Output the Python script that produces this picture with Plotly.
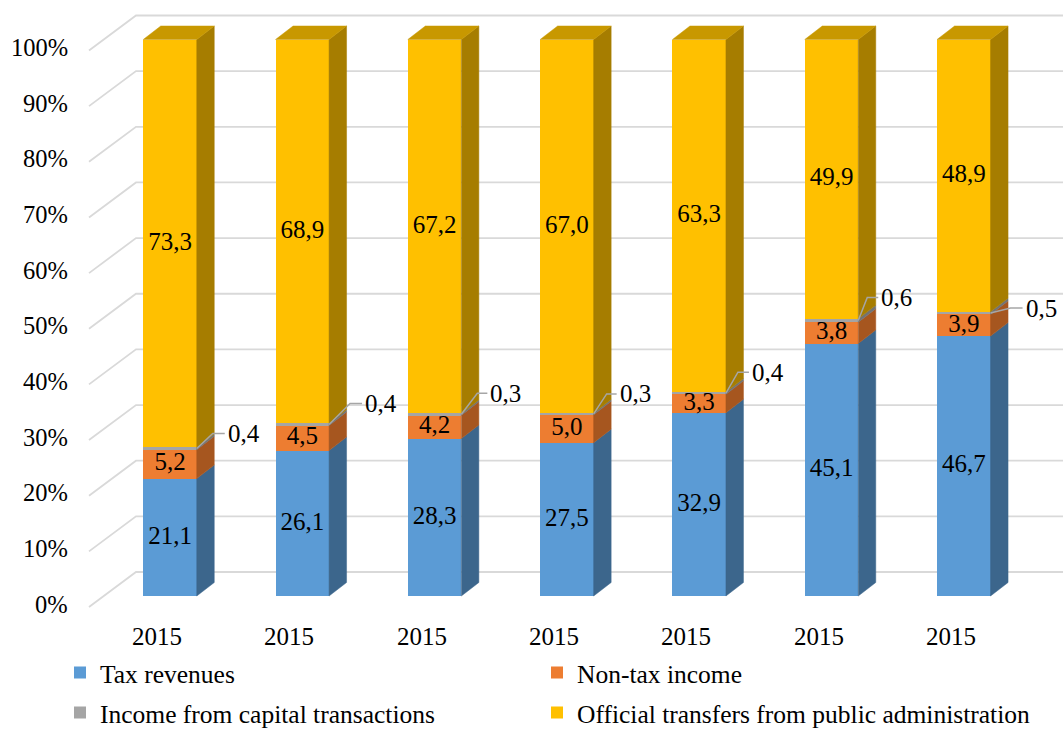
import numpy as np
import plotly.graph_objects as go

# ---- data ----
categories = ["2015", "2015", "2015", "2015", "2015", "2015", "2015"]
tax_revenues = [21.1, 26.1, 28.3, 27.5, 32.9, 45.1, 46.7]
non_tax_income = [5.2, 4.5, 4.2, 5.0, 3.3, 3.8, 3.9]
capital_income = [0.4, 0.4, 0.3, 0.3, 0.4, 0.6, 0.5]
official_transfers = [73.3, 68.9, 67.2, 67.0, 63.3, 49.9, 48.9]
series_names = [
    "Tax revenues",
    "Non-tax income",
    "Income from capital transactions",
    "Official transfers from public administration",
]
y_ticks = [0, 10, 20, 30, 40, 50, 60, 70, 80, 90, 100]

# ---- style ----
FONT = "'Liberation Serif', 'Times New Roman', Times, serif"
FS = 25
FS_TICK = 24.5
FS_LEGEND = 25.5
FRONT = ["#5B9BD5", "#ED7D31", "#A5A5A5", "#FFC000"]
SIDE = ["#3C668C", "#A6561F", "#737373", "#A67D00"]
TOP = "#C89800"
GRID = "#D9D9D9"
LEADER = "#A6A6A6"

W, H = 1063, 731
PX_X = 132.3    # pixels per category step
PX_Y = 5.565    # pixels per percentage point
X0_PX, Y0_PX = 170.0, 596.0   # pixel position of first bar centre / 0 %

BW = 53.5 / PX_X          # bar width
DX = 17.5 / PX_X          # 3-D depth offset (x)
DY = 13.5 / PX_Y          # 3-D depth offset (y)
WALL_X0 = (89 - X0_PX) / PX_X
WALL_X1 = (136 - X0_PX) / PX_X
FLOOR_DY = 11 / PX_Y
WALL_DY = 24 / PX_Y
CAT_DX = -13 / PX_X
CAT_Y = -40 / PX_Y

x_range = [-X0_PX / PX_X, (W - X0_PX) / PX_X]
y_range = [-(H - Y0_PX) / PX_Y, Y0_PX / PX_Y]

# leader line geometry for the small segment labels: (diag dx, diag dy, horizontal) in px
leader_geom = [(16, 15, 12), (21, 21, 12), (16, 21, 10), (13, 20, 10),
               (12, 21, 11), (9, 23, 11), (20, 5, 12)]

# legend entry placement (symbol-area left edge x, row centre y) in px
legend_pos = [(60, 673), (537, 673), (60, 713), (537, 713)]

series = [tax_revenues, non_tax_income, capital_income, official_transfers]
raw = np.array(series, dtype=float)
pct = raw / raw.sum(axis=0) * 100.0          # 100 % stacked
tops = np.cumsum(pct, axis=0)
bases = tops - pct
xs = np.arange(len(categories))


def fmt(v):
    return f"{v:.1f}".replace(".", ",")


fig = go.Figure()

# front faces, one legend box per entry
legend_ids = ["legend", "legend2", "legend3", "legend4"]
for k, name in enumerate(series_names):
    fig.add_trace(go.Bar(
        x=xs, y=series[k], name=name, width=BW,
        marker=dict(color=FRONT[k], line=dict(width=0)),
        legend=legend_ids[k], hoverinfo="skip",
    ))

# right side faces
for k in range(len(series)):
    px_, py_ = [], []
    for i in xs:
        xr = i + BW / 2
        b, t = bases[k, i], tops[k, i]
        px_ += [xr, xr + DX, xr + DX, xr, xr, None]
        py_ += [b, b + DY, t + DY, t, b, None]
    fig.add_trace(go.Scatter(
        x=px_, y=py_, mode="lines", fill="toself", fillcolor=SIDE[k],
        line=dict(color=SIDE[k], width=0.5), showlegend=False, hoverinfo="skip",
    ))

# top faces
px_, py_ = [], []
for i in xs:
    t = tops[-1, i]
    xl, xr = i - BW / 2, i + BW / 2
    px_ += [xl, xl + DX, xr + DX, xr, xl, None]
    py_ += [t, t + DY, t + DY, t, t, None]
fig.add_trace(go.Scatter(
    x=px_, y=py_, mode="lines", fill="toself", fillcolor=TOP,
    line=dict(color=TOP, width=0.5), showlegend=False, hoverinfo="skip",
))

# labels inside the segments
for k in (0, 1, 3):
    fig.add_trace(go.Scatter(
        x=xs, y=(bases[k] + tops[k]) / 2, mode="text",
        text=[fmt(v) for v in series[k]],
        textfont=dict(family=FONT, size=FS, color="#000000"),
        showlegend=False, hoverinfo="skip",
    ))

# leader lines and labels for the capital-transactions segment
lx, ly = [], []
annotations = []
for i in xs:
    gdx, gdy, hor = leader_geom[i]
    x_s = i + BW / 2
    y_s = (bases[2, i] + tops[2, i]) / 2
    x_m, y_m = x_s + gdx / PX_X, y_s + gdy / PX_Y
    x_e = x_m + hor / PX_X
    lx += [x_s, x_m, x_e, None]
    ly += [y_s, y_m, y_m, None]
    annotations.append(dict(
        x=x_e, y=y_m, xref="x", yref="y", text=fmt(capital_income[i]),
        showarrow=False, xanchor="left", yanchor="middle", xshift=1,
        font=dict(family=FONT, size=FS, color="#000000"),
    ))
fig.add_trace(go.Scatter(
    x=lx, y=ly, mode="lines", line=dict(color=LEADER, width=1.5),
    showlegend=False, hoverinfo="skip",
))

# gridlines on side and back walls
shapes = []
for v in y_ticks:
    shapes.append(dict(
        type="path", xref="x", yref="y", layer="below",
        path=f"M {WALL_X0},{v - FLOOR_DY} L {WALL_X1},{v + WALL_DY} L {x_range[1]},{v + WALL_DY}",
        line=dict(color=GRID, width=1.8),
    ))
    annotations.append(dict(
        x=WALL_X0, y=v - FLOOR_DY, xref="x", yref="y", text=f"{v}%",
        showarrow=False, xanchor="right", yanchor="middle", xshift=-19, yshift=3,
        font=dict(family=FONT, size=FS_TICK, color="#000000"),
    ))

# category labels
for i, c in enumerate(categories):
    annotations.append(dict(
        x=i + CAT_DX, y=CAT_Y, xref="x", yref="y", text=c, showarrow=False,
        xanchor="center", yanchor="middle",
        font=dict(family=FONT, size=FS, color="#000000"),
    ))

legends = {}
for lid, (lx_px, ly_px) in zip(legend_ids, legend_pos):
    legends[lid] = dict(
        orientation="h", xanchor="left", yanchor="middle",
        x=lx_px / W, y=1 - ly_px / H, maxheight=120,
        font=dict(family=FONT, size=FS_LEGEND, color="#000000"),
        bgcolor="rgba(0,0,0,0)", itemclick=False, itemdoubleclick=False,
    )

fig.update_layout(
    width=W, height=H,
    margin=dict(l=0, r=0, t=0, b=0, autoexpand=False),
    paper_bgcolor="#FFFFFF", plot_bgcolor="#FFFFFF",
    barmode="stack", barnorm="percent",
    xaxis=dict(range=x_range, visible=False, fixedrange=True),
    yaxis=dict(range=y_range, visible=False, fixedrange=True),
    shapes=shapes, annotations=annotations,
    showlegend=True,
    **legends,
)

fig.write_html("out.html")
